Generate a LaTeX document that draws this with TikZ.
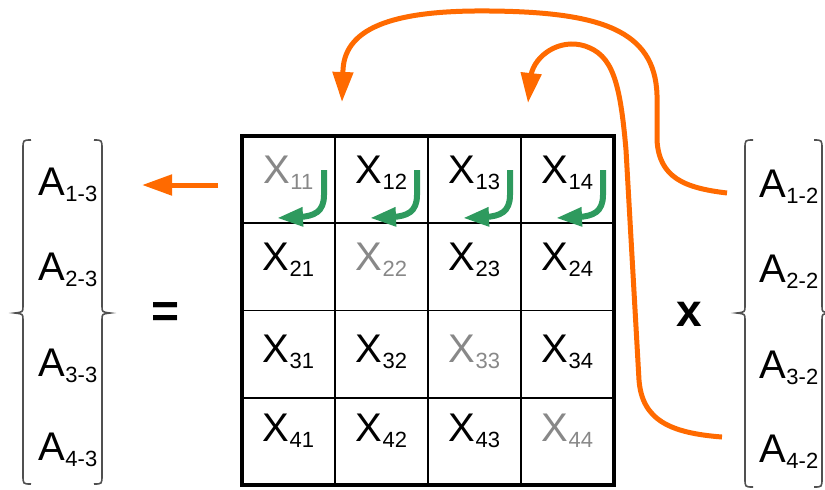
\documentclass[tikz,border=0pt]{standalone}
\usepackage{fontspec}
\setmainfont{Liberation Sans}
\usepackage{tikz}
\usetikzlibrary{arrows.meta, calc}
\definecolor{hotorange}{RGB}{255,106,0}
\definecolor{rotgreen}{RGB}{46,154,94}
\definecolor{diaggray}{RGB}{136,136,136}
\definecolor{bracegray}{RGB}{80,80,80}
\newcommand{\idx}[1]{\raisebox{-3pt}{\fontsize{11}{13}\selectfont #1}}

\begin{document}
\begin{tikzpicture}[x=0.5pt, y=-0.5pt,
    entry/.style={inner sep=0pt, anchor=base, font=\fontsize{20}{24}\selectfont},
    feedarrow/.style={hotorange, line width=2.5pt, -{Triangle[length=15pt, width=10pt]}},
    rotarrow/.style={rotgreen, line width=3pt, -{Triangle[length=13pt, width=9pt]}},
    bracket/.style={bracegray, line width=0.8pt}]
        \useasboundingbox (0,0) rectangle (825,489);

        % Matrix grid
        \foreach \i in {1,2,3} {
            \draw[line width=0.8pt] (242+93*\i,136) -- (242+93*\i,485);
            \draw[line width=0.8pt] (242,136+87.25*\i) -- (614,136+87.25*\i);
        }
        \draw[line width=2pt] (242,136) rectangle (614,485);

        % Entries, diagonal in gray
        \foreach \r/\yb in {1/183, 2/270, 3/362, 4/441}
            \foreach \c in {1,...,4} {
                \ifnum\r=\c \def\ink{diaggray}\else\def\ink{black}\fi
                \node[entry, text=\ink] (x\r\c) at (195.5+93*\c, \yb) {X\idx{\r\c}};
            }

        % Rotation marks in the first row
        \foreach \c in {1,...,4}
            \draw[rotarrow] (231+93*\c,170) -- (231+93*\c,195)
                .. controls (231+93*\c,212) and (221+93*\c,216) .. (207+93*\c,217)
                -- (184+93*\c,218);

        % Column vectors
        \foreach \r/\yb in {1/195, 2/280, 3/376, 4/460} {
            \node[entry] (l\r) at (68,\yb) {A\idx{\r-3}};
            \node[entry] (r\r) at (789,\yb+2) {A\idx{\r-2}};
        }

        % Brackets
        \foreach \bx/\dir/\ty/\by in {23/1/140/484, 102/-1/140/484, 745/1/140/487, 822/-1/140/487}
            \draw[bracket] (\bx+8*\dir,\ty) .. controls (\bx,\ty) .. (\bx,\ty+9)
                -- (\bx,306) .. controls (\bx,312) .. (\bx-8*\dir,313)
                .. controls (\bx,314) .. (\bx,320)
                -- (\bx,\by-9) .. controls (\bx,\by) .. (\bx+8*\dir,\by);

        % Operators
        \node[font=\bfseries\fontsize{24}{28}\selectfont] (eq) at (166,315) {=};
        \node[font=\bfseries\fontsize{23}{28}\selectfont] (times) at (689,314) {x};

        % Result arrow
        \coordinate (ltail) at (218,185);
        \coordinate (lhead) at (142,185);
        \draw[feedarrow] (ltail) -- (lhead);

        % Feedback curves
        \coordinate (s1) at (727,193);
        \coordinate (t1) at (342,102);
        \coordinate (s2) at (722,437);
        \coordinate (t2) at (528,103);
        \draw[feedarrow] (s1) .. controls (685,188) and (659,178) .. (657,140)
            -- (657,95) .. controls (655,30) and (600,12) .. (490,11)
            .. controls (400,10) and (345,25) .. (343,70) -- (t1);
        \draw[feedarrow] (s2) .. controls (670,433) and (642,420) .. (639,380)
            -- (626,150) .. controls (620,80) and (612,55) .. (585,46)
            .. controls (560,38) and (535,55) .. (531,75) -- (t2);
    \end{tikzpicture}
\end{document}
